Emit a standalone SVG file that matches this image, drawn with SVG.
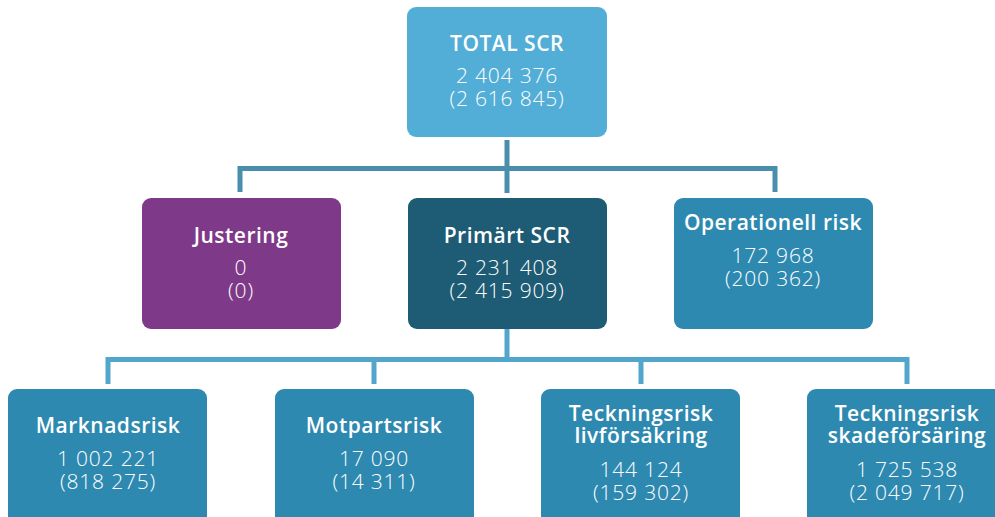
<svg xmlns="http://www.w3.org/2000/svg" width="995" height="517" viewBox="0 0 995 517">
<style>
.t{font-family:"Open Sans","Liberation Sans",sans-serif;font-size:21px;font-weight:600;letter-spacing:0.5px;fill:#fff;text-anchor:middle}
.n{font-family:"Open Sans","Liberation Sans",sans-serif;font-size:21px;font-weight:300;letter-spacing:0.8px;fill:#fff;text-anchor:middle}
.c1{fill:none;stroke:#4A8EAE;stroke-width:5}
.c2{fill:none;stroke:#52A6CC;stroke-width:5}
</style>
<rect width="995" height="517" fill="#fff"/>
<g id="connectors">
<path class="c1" d="M507 140V193M240 192V168.5H775V192"/>
<path class="c2" d="M507 329V362M108 384V359.5H907V384M374 359.5V384M641 359.5V384"/>
</g>
<g id="total">
<rect x="407" y="7" width="200" height="130" rx="9" fill="#52AED6"/>
<text class="t" x="507" y="51">TOTAL SCR</text>
<text class="n" x="507" y="83">2 404 376</text>
<text class="n" x="507" y="106">(2 616 845)</text>
</g>
<g id="justering">
<rect x="142" y="198" width="199" height="131" rx="9" fill="#7E3A88"/>
<text class="t" x="241" y="243">Justering</text>
<text class="n" x="241" y="275">0</text>
<text class="n" x="241" y="298">(0)</text>
</g>
<g id="primart">
<rect x="408" y="198" width="199" height="131" rx="9" fill="#1D5C74"/>
<text class="t" x="507" y="243">Primärt SCR</text>
<text class="n" x="507" y="275">2 231 408</text>
<text class="n" x="507" y="298">(2 415 909)</text>
</g>
<g id="operationell">
<rect x="674" y="198" width="199" height="131" rx="9" fill="#2E89B0"/>
<text class="t" x="773" y="230">Operationell risk</text>
<text class="n" x="773" y="263">172 968</text>
<text class="n" x="773" y="286">(200 362)</text>
</g>
<g id="marknad">
<rect x="8" y="389" width="199" height="140" rx="9" fill="#2E89B0"/>
<text class="t" x="108" y="433">Marknadsrisk</text>
<text class="n" x="108" y="466">1 002 221</text>
<text class="n" x="108" y="489">(818 275)</text>
</g>
<g id="motpart">
<rect x="275" y="389" width="199" height="140" rx="9" fill="#2E89B0"/>
<text class="t" x="374" y="433">Motpartsrisk</text>
<text class="n" x="374" y="466">17 090</text>
<text class="n" x="374" y="489">(14 311)</text>
</g>
<g id="liv">
<rect x="541" y="389" width="199" height="140" rx="9" fill="#2E89B0"/>
<text class="t" x="641" y="421">Teckningsrisk</text>
<text class="t" x="641" y="443">livförsäkring</text>
<text class="n" x="641" y="477">144 124</text>
<text class="n" x="641" y="500">(159 302)</text>
</g>
<g id="skade">
<rect x="807" y="389" width="199" height="140" rx="9" fill="#2E89B0"/>
<text class="t" x="907" y="421">Teckningsrisk</text>
<text class="t" x="907" y="443">skadeförsäring</text>
<text class="n" x="907" y="477">1 725 538</text>
<text class="n" x="907" y="500">(2 049 717)</text>
</g>
</svg>
